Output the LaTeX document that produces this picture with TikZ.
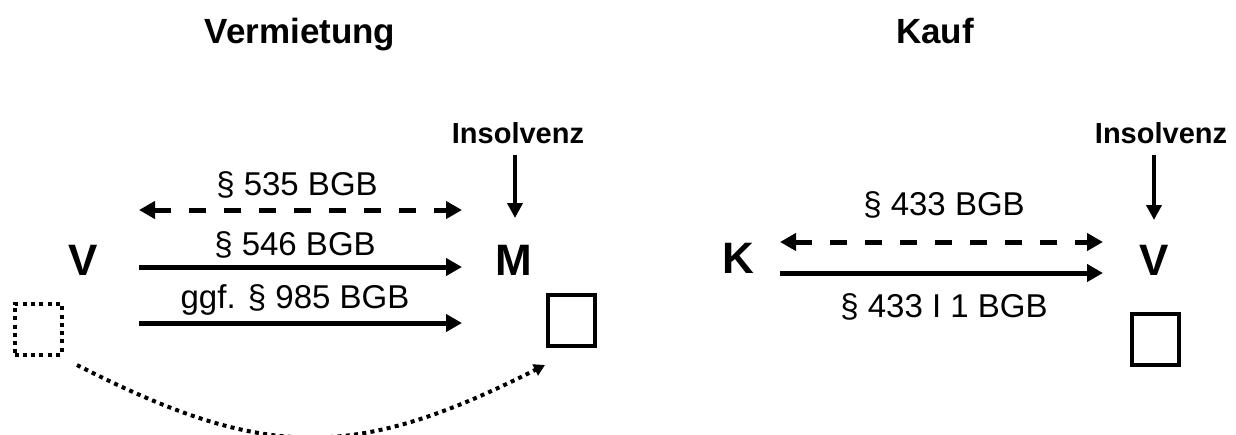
\documentclass[tikz,border=0pt]{standalone}
\usepackage{fontspec}
\setmainfont{Liberation Sans}
\usetikzlibrary{arrows.meta}
\begin{document}
\begin{tikzpicture}[x=1pt,y=-1pt,
  title/.style={anchor=base,inner sep=0pt,font=\fontsize{35}{42}\selectfont\bfseries},
  party/.style={anchor=base,inner sep=0pt,font=\fontsize{44}{52}\selectfont\bfseries},
  insol/.style={anchor=base,inner sep=0pt,font=\fontsize{29}{35}\selectfont\bfseries},
  norm/.style={anchor=base,inner sep=0pt,font=\fontsize{33}{40}\selectfont},
  bigarrow/.style={line width=5pt,-{Triangle[length=16pt,width=17pt]}},
  duoarrow/.style={line width=5pt,dash pattern=on 17pt off 18pt,
    {Triangle[length=16pt,width=17pt]}-{Triangle[length=16pt,width=17pt]}},
  downarrow/.style={line width=4pt,-{Triangle[length=15pt,width=15pt]}},
  dotline/.style={line width=4pt,dash pattern=on 4pt off 4.3pt},
  itembox/.style={draw,line width=4pt,minimum width=47pt,minimum height=51pt,inner sep=0pt}
]
\useasboundingbox (0,0) rectangle (1236,434);

% headings
\node[title] (tver) at (300,43) {Vermietung};
\node[title] (tkauf) at (935,43) {Kauf};

% --- Vermietung ---
\node[party] (V) at (83,275) {V};
\node[party] (M) at (514,275) {M};
\node[insol] (insL) at (518,143) {Insolvenz};
\coordinate (insLend) at (515,218);
\draw[downarrow] (insL.south -| insLend) ++(0,12) -- (insLend);

\coordinate (a1s) at (139,210); \coordinate (a1e) at (462,210);
\coordinate (a2s) at (139,267); \coordinate (a2e) at (462,267);
\coordinate (a3s) at (139,323); \coordinate (a3e) at (462,323);
\draw[duoarrow] (a1s) -- (a1e);
\draw[bigarrow] (a2s) -- (a2e);
\draw[bigarrow] (a3s) -- (a3e);
\node[norm] (l535) at (297,195) {§ 535 BGB};
\node[norm] (l546) at (295,255) {§ 546 BGB};
\node[norm] (l985) at (295,308) {ggf. § 985 BGB};

\node[itembox,dotline] (boxV) at (38,329) {};
\node[itembox] (boxM) at (571,320) {};

% dotted transfer curve, running out past the lower edge
\begin{scope}
  \clip (0,0) rectangle (1236,434);
  \coordinate (cs) at (77,365);
  \coordinate (ce) at (545,365);
  \draw[dotline,-{Triangle[length=11pt,width=12pt]}]
    (cs) .. controls (265,461) and (355,461) .. (ce);
\end{scope}

% --- Kauf ---
\node[party] (K) at (738,273) {K};
\node[party] (V2) at (1154,275) {V};
\node[insol] (insR) at (1161,143) {Insolvenz};
\coordinate (insRend) at (1154,220);
\draw[downarrow] (insR.south -| insRend) ++(0,12) -- (insRend);

\coordinate (b1s) at (780,242); \coordinate (b1e) at (1103,242);
\coordinate (b2s) at (780,273); \coordinate (b2e) at (1103,273);
\draw[duoarrow] (b1s) -- (b1e);
\draw[bigarrow] (b2s) -- (b2e);
\node[norm] (l433) at (944,215) {§ 433 BGB};
\node[norm] (l4331) at (944,317) {§ 433 I 1 BGB};

\node[itembox] (boxV2) at (1155,339) {};
\end{tikzpicture}
\end{document}
